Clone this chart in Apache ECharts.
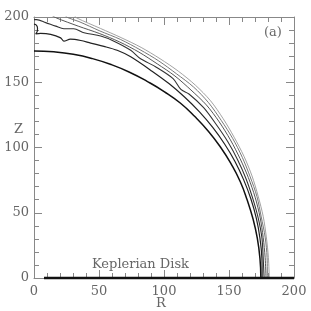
<!DOCTYPE html>
<html><head><meta charset="utf-8">
<script src="https://cdn.jsdelivr.net/npm/echarts@6/dist/echarts.min.js"></script>
<style>html,body{margin:0;padding:0;background:#fff}#c{width:311px;height:311px}</style>
</head><body><div id="c"></div>
<script>
// Axis ticks
const rTicks = [0, 50, 100, 150, 200];
const zTicks = [0, 50, 100, 150, 200];

// Contours [R, Z], innermost to outermost
const curveA = [[0,174],[15.2,173.3],[30.2,171.4],[45.0,168.1],[59.5,163.5],[73.5,157.7],[87.0,150.7],[100.1,142.9],[112.5,134.1],[123.7,123.7],[134.1,112.5],[143.4,100.4],[151.6,87.5],[158.6,74.0],[164.0,59.7],[168.5,45.2],[171.8,30.3],[173.8,15.2],[174.5,0]];
const curveB = [[0,194.5],[1.8,193.8],[2.7,191.5],[2.5,189],[1.3,187],[5,187.4],[12.8,186.7],[20.5,184],[23,181.5],[28,183],[36,182],[43.6,180],[53.8,177.5],[64,174.5],[74.4,169.5],[90.8,158.5],[103.8,149],[116,138.5],[127.3,127.3],[137.5,115.4],[146.6,102.7],[154.6,89.3],[161.3,75.2],[166.8,60.7],[171,45.8],[173.8,30.6],[175.3,15.3],[175.5,0]];
const curveC = [[0,198],[2,198],[9,195.7],[16.7,193],[23,191],[30.5,191],[38.5,188],[51.3,185.4],[61.5,181.5],[74.4,174.5],[82,168],[93.5,161.9],[107.0,152.8],[113,144.5],[119.2,141],[130.5,130.5],[140.2,117.6],[149.1,104.4],[156.7,90.5],[163.1,76.1],[168.2,61.2],[172.4,46.2],[175.3,30.9],[176.3,15.4],[177,0]];
const curveD = [[14,201],[17.4,199.2],[34.0,193.0],[50.2,187.4],[65.8,180.9],[80.7,173.1],[94.8,164.1],[108.4,154.8],[120.8,144.0],[132.6,132.6],[142.5,119.6],[151.1,105.8],[158.5,91.5],[164.9,76.9],[170.1,61.9],[173.9,46.6],[176.3,31.1],[177.8,15.6],[178.5,0]];
const curveE = [[24,201],[26,199.5],[34.6,196.5],[50.7,189.3],[66.5,182.8],[81.6,174.9],[96,166.3],[109.6,156.5],[122.8,146.3],[134.3,134.3],[144.0,120.8],[152.8,107.0],[160.2,92.5],[166.3,77.5],[171.5,62.4],[174.8,46.8],[177.8,31.3],[179.3,15.7],[179.5,0]];
const curveF = [[31,201],[33,199.2],[51.2,191.2],[67.0,184.2],[82.4,176.7],[97,168],[111,158.5],[124.1,147.8],[135.8,135.8],[145.5,122.1],[154.0,107.8],[161.5,93.3],[167.7,78.2],[172.4,62.8],[176.3,47.2],[178.7,31.5],[180.3,15.8],[181,0]];
const disk = [[7.7,0],[200,0]];

const FONT = 'DejaVu Serif';
const TXT = '#666';
const AX = '#888';

function axisBase(pos, labels) {
  return {
    type: 'value', min: 0, max: 200, interval: 50, position: pos,
    axisLine: { show: true, onZero: false, lineStyle: { color: AX, width: 1 } },
    axisTick: { show: true, inside: true, length: 8, lineStyle: { color: AX } },
    minorTick: { show: true, splitNumber: 5, length: 5, lineStyle: { color: AX } },
    splitLine: { show: false },
    axisLabel: labels ? { show: true, fontFamily: FONT, fontSize: 13, color: TXT } : { show: false }
  };
}
const xa = axisBase('bottom', true); xa.axisLabel.margin = 7;
xa.axisLabel.formatter = v => rTicks.includes(v) ? String(v) : '';
const ya = axisBase('left', true); ya.axisLabel.margin = 5;
ya.axisLabel.formatter = v => zTicks.includes(v) ? String(v) : '';

function line(data, color, width, smooth) {
  return { type: 'line', data, showSymbol: false, symbol: 'none', smooth,
    lineStyle: { color, width }, clip: true, silent: true };
}

const chart = echarts.init(document.getElementById('c'));
chart.setOption({
  animation: false,
  grid: { left: 34, right: 17, top: 17, bottom: 33 },
  xAxis: [xa, axisBase('top', false)],
  yAxis: [ya, axisBase('right', false)],
  series: [
    line(curveF, '#999', 0.9, 0.3),
    line(curveE, '#777', 1, 0.3),
    line(curveD, '#555', 1, 0.3),
    line(curveC, '#333', 1.1, 0.3),
    line(curveB, '#222', 1.2, 0.3),
    line(curveA, '#111', 1.5, true),
    Object.assign(line(disk, '#111', 2.5, false), { clip: false })
  ],
  graphic: [
    { type: 'text', left: 92, top: 258, style: { text: 'Keplerian Disk', font: '13px ' + FONT, fill: TXT } },
    { type: 'text', left: 264, top: 26, style: { text: '(a)', font: '13px ' + FONT, fill: TXT } },
    { type: 'text', left: 14, top: 123, style: { text: 'Z', font: '13px ' + FONT, fill: TXT } },
    { type: 'text', left: 156, top: 297, style: { text: 'R', font: '13px ' + FONT, fill: TXT } }
  ]
});
</script></body></html>
